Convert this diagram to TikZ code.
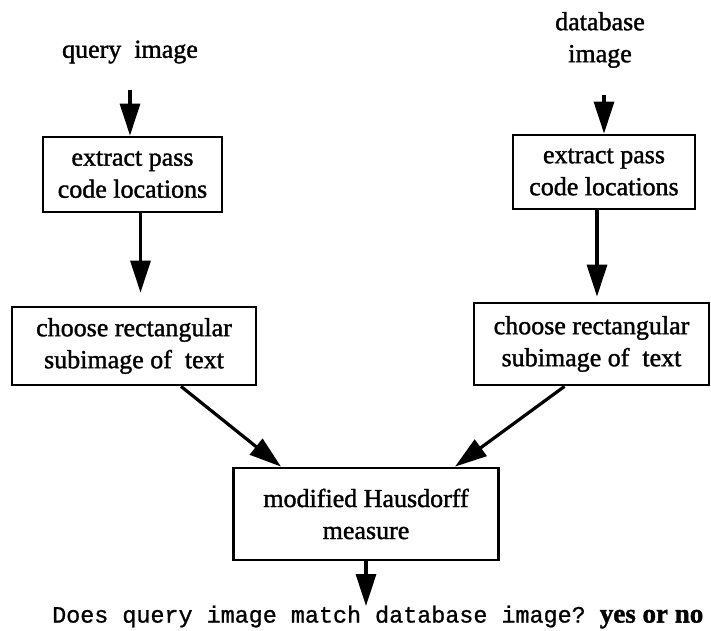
\documentclass[tikz,border=0pt]{standalone}
\usepackage{fontspec}
\setmainfont{Liberation Serif}[FakeBold=1.4]
\setmonofont{Liberation Mono}[FakeBold=1]
\usepackage{xcolor}
\usetikzlibrary{calc,arrows.meta}
\definecolor{ink}{HTML}{000000}
\tikzset{
  stepbox/.style={draw=ink, line width=2.8pt, align=center, inner sep=0pt,
    font=\fontsize{26}{32}\selectfont},
  lab/.style={text=ink, align=center, font=\fontsize{26}{32}\selectfont},
  arr/.style={draw=ink, line width=3.2pt, -{Triangle[length=32pt,width=20pt]}},
}

\begin{document}
\begin{tikzpicture}[x=1pt,y=-1pt]
  \useasboundingbox (0,0) rectangle (711,630);

  % inputs
  \node[lab] (qimg) at (130,52) {query\ \ image};
  \node[lab] (dimg) at (600,40) {database\\image};

  % left branch
  \node[stepbox,minimum width=179pt,minimum height=75pt] (qext) at (132.5,174.5) {extract pass\\code locations};
  \node[stepbox,minimum width=244pt,minimum height=78pt] (qsub) at (134,346) {choose rectangular\\subimage of\ \ text};

  % right branch
  \node[stepbox,minimum width=182pt,minimum height=74pt] (dext) at (604,172) {extract pass\\code locations};
  \node[stepbox,minimum width=235pt,minimum height=82pt] (dsub) at (591.5,344) {choose rectangular\\subimage of\ \ text};

  % join
  \node[stepbox,minimum width=265pt,minimum height=92pt] (haus) at (366,514) {modified Hausdorff\\measure};
  \coordinate (out) at (366,606);
  \node[lab,anchor=west,inner sep=0pt] (res) at (52,617)
    {\fontsize{23.4}{28}\ttfamily Does query image match database image? \rmfamily\bfseries\fontsize{27}{28}\selectfont yes or no};

  \draw[arr,shorten <=23pt] (qimg.south) -- (qimg.south |- qext.north);
  \draw[arr,shorten <=24pt] (dimg.south -| dext.north) -- (dext.north);
  \draw[arr,shorten >=13pt] ([xshift=8pt]qext.south) -- ([xshift=8pt]qext.south |- qsub.north);
  \draw[arr,shorten >=5pt] ([xshift=-7pt]dext.south) -- ([xshift=-7pt]dext.south |- dsub.north);
  \draw[arr] ([xshift=47pt]qsub.south) -- ([xshift=-85pt]haus.north);
  \draw[arr] ([xshift=-27pt]dsub.south) -- ([xshift=89pt]haus.north);
  \draw[arr] (haus.south) -- (out);
\end{tikzpicture}
\end{document}
